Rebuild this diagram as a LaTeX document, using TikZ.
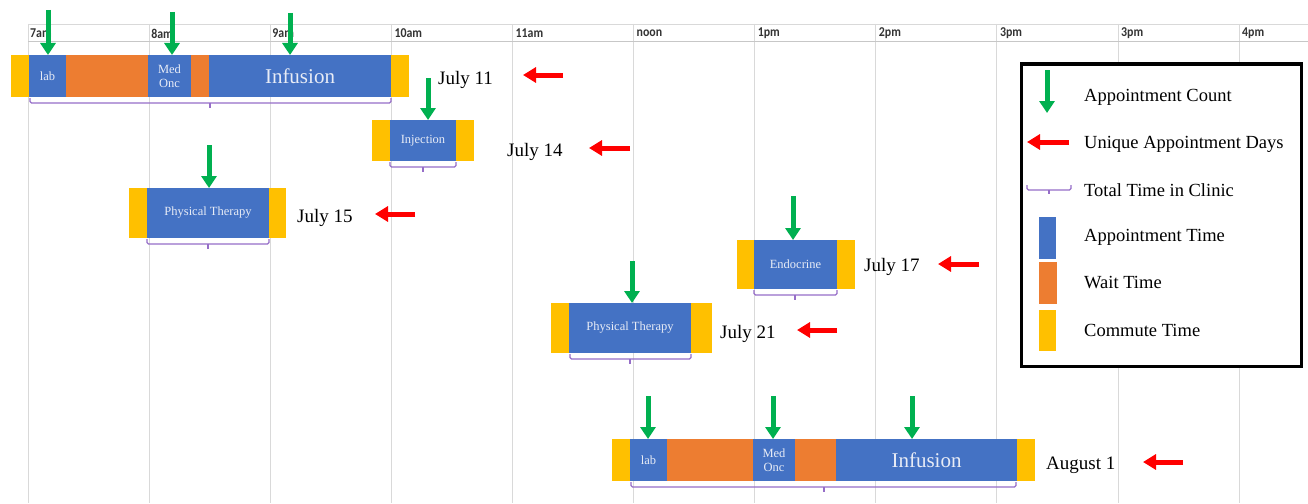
\documentclass[tikz,border=0pt]{standalone}
\usepackage{fontspec}
\setmainfont{Liberation Serif}
\newfontfamily\hdrfont[FakeStretch=0.88]{Carlito}
\usetikzlibrary{arrows.meta}
\definecolor{cblue}{RGB}{68,114,196}
\definecolor{corange}{RGB}{237,125,49}
\definecolor{cyellow}{RGB}{255,192,0}
\definecolor{cgreen}{RGB}{0,176,80}
\definecolor{cred}{RGB}{255,0,0}
\definecolor{cbrace}{RGB}{150,110,200}
\definecolor{cgrid}{RGB}{217,217,217}
\definecolor{ctext}{RGB}{232,236,246}
\begin{document}
\begin{tikzpicture}[x=1pt,y=-1pt,
  seg/.style={inner sep=0pt, outer sep=0pt, anchor=north west, draw=none, text=ctext, align=center},
  appt/.style={seg, fill=cblue},
  wait/.style={seg, fill=corange},
  comm/.style={seg, fill=cyellow},
  small/.style={font=\fontsize{12.5}{13.5}\selectfont},
  big/.style={font=\fontsize{21}{24}\selectfont},
  datelbl/.style={anchor=west, inner sep=0pt, font=\fontsize{19}{22}\selectfont},
  legtext/.style={anchor=west, inner sep=0pt, font=\fontsize{18.5}{22}\selectfont},
  hdr/.style={anchor=west, inner sep=0pt, font=\hdrfont\bfseries\fontsize{13.5}{14}\selectfont, text=black!80},
  garrow/.style={draw=cgreen, line width=5pt, -{Triangle[length=12pt,width=15pt]}},
  rarrow/.style={draw=cred, line width=5pt, -{Triangle[length=13pt,width=15pt]}},
  brace/.style={draw=cbrace, line width=1.1pt, rounded corners=1.5pt},
  gridline/.style={draw=cgrid, line width=0.8pt}
]
\useasboundingbox[fill=white] (0,0) rectangle (1308,503);

% grid
\foreach \k in {0,...,10} {
  \draw[gridline] ({28+121.1*\k},24) -- ({28+121.1*\k},503);
}
\draw[gridline] (28,24) -- (1308,24);
\draw[draw=black!22, line width=1.6pt] (28,41.5) -- (1308,41.5);
\node[hdr] (h7) at (30,33.5) {7am};
\node[hdr] (h8) at (151.1,33.5) {8am};
\node[hdr] (h9) at (272.2,33.5) {9am};
\node[hdr] (h10) at (394.3,33.5) {10am};
\node[hdr] (h11) at (515.4,33.5) {11am};
\node[hdr] (hnoon) at (636.5,33.5) {noon};
\node[hdr] (h1) at (757.6,33.5) {1pm};
\node[hdr] (h2) at (878.7,33.5) {2pm};
\node[hdr] (h3) at (999.8,33.5) {3pm};
\node[hdr] (h3b) at (1120.9,33.5) {3pm};
\node[hdr] (h4) at (1242,33.5) {4pm};

% Row 1: July 11
\node[comm, minimum width=18pt, minimum height=42pt] (r1c1) at (11,55) {};
\node[appt, small, minimum width=37pt, minimum height=42pt] (r1lab) at (29,55) {lab};
\node[wait, minimum width=82pt, minimum height=42pt] (r1w1) at (66,55) {};
\node[appt, small, minimum width=43pt, minimum height=42pt] (r1med) at (148,55) {Med\\Onc};
\node[wait, minimum width=18pt, minimum height=42pt] (r1w2) at (191,55) {};
\node[appt, big, minimum width=182pt, minimum height=42pt] (r1inf) at (209,55) {Infusion};
\node[comm, minimum width=18pt, minimum height=42pt] (r1c2) at (391,55) {};
\draw[brace] (30,98) -- (30,103) -- (391,103) -- (391,98);
\draw[brace] (210,103) -- (210,108);
\node[datelbl] (d1) at (438,80) {July 11};

% Row 2: July 14
\node[comm, minimum width=18pt, minimum height=41pt] (r2c1) at (372,120) {};
\node[appt, small, minimum width=66pt, minimum height=41pt] (r2inj) at (390,120) {Injection};
\node[comm, minimum width=18pt, minimum height=41pt] (r2c2) at (456,120) {};
\draw[brace] (390,162) -- (390,167) -- (456,167) -- (456,162);
\draw[brace] (423,167) -- (423,172);
\node[datelbl] (d2) at (507,152) {July 14};

% Row 3: July 15
\node[comm, minimum width=18pt, minimum height=50pt] (r3c1) at (129,188) {};
\node[appt, small, minimum width=122pt, minimum height=50pt] (r3pt) at (147,188) {Physical Therapy};
\node[comm, minimum width=17pt, minimum height=50pt] (r3c2) at (269,188) {};
\draw[brace] (147,239) -- (147,244) -- (269,244) -- (269,239);
\draw[brace] (208,244) -- (208,249);
\node[datelbl] (d3) at (297,218) {July 15};

% Row 4: July 17
\node[comm, minimum width=17pt, minimum height=49pt] (r4c1) at (737,240) {};
\node[appt, small, minimum width=83pt, minimum height=49pt] (r4end) at (754,240) {Endocrine};
\node[comm, minimum width=18pt, minimum height=49pt] (r4c2) at (837,240) {};
\draw[brace] (754,290) -- (754,295) -- (837,295) -- (837,290);
\draw[brace] (795,295) -- (795,300);
\node[datelbl] (d4) at (864,267) {July 17};

% Row 5: July 21
\node[comm, minimum width=18pt, minimum height=50pt] (r5c1) at (551,303) {};
\node[appt, small, minimum width=122pt, minimum height=50pt] (r5pt) at (569,303) {Physical Therapy};
\node[comm, minimum width=21pt, minimum height=50pt] (r5c2) at (691,303) {};
\draw[brace] (570,354) -- (570,359) -- (691,359) -- (691,354);
\draw[brace] (630,359) -- (630,364);
\node[datelbl] (d5) at (720,334) {July 21};

% Row 6: August 1
\node[comm, minimum width=18pt, minimum height=42pt] (r6c1) at (612,439) {};
\node[appt, small, minimum width=37pt, minimum height=42pt] (r6lab) at (630,439) {lab};
\node[wait, minimum width=86pt, minimum height=42pt] (r6w1) at (667,439) {};
\node[appt, small, minimum width=42pt, minimum height=42pt] (r6med) at (753,439) {Med\\Onc};
\node[wait, minimum width=41pt, minimum height=42pt] (r6w2) at (795,439) {};
\node[appt, big, minimum width=181pt, minimum height=42pt] (r6inf) at (836,439) {Infusion};
\node[comm, minimum width=18pt, minimum height=42pt] (r6c2) at (1017,439) {};
\draw[brace] (631,482) -- (631,487) -- (1016,487) -- (1016,482);
\draw[brace] (824,487) -- (824,492);
\node[datelbl] (d6) at (1046,465) {August 1};

% green arrows (appointment count)
\coordinate (g1a) at (48,10);
\coordinate (g1b) at (172,12);
\coordinate (g1c) at (290,13);
\coordinate (g2) at (428,78);
\coordinate (g3) at (209,145);
\coordinate (g4) at (793,196);
\coordinate (g5) at (632,261);
\coordinate (g6a) at (648,396);
\coordinate (g6b) at (773,396);
\coordinate (g6c) at (912,396);
\draw[garrow] (g1a) -- (g1a |- r1lab.north);
\draw[garrow] (g1b) -- (g1b |- r1med.north);
\draw[garrow] (g1c) -- (g1c |- r1inf.north);
\draw[garrow] (g2) -- (g2 |- r2inj.north);
\draw[garrow] (g3) -- (g3 |- r3pt.north);
\draw[garrow] (g4) -- (g4 |- r4end.north);
\draw[garrow] (g5) -- (g5 |- r5pt.north);
\draw[garrow] (g6a) -- (g6a |- r6lab.north);
\draw[garrow] (g6b) -- (g6b |- r6med.north);
\draw[garrow] (g6c) -- (g6c |- r6inf.north);

% red arrows (unique days)
\coordinate (ra1) at (563,75);  \coordinate (rb1) at (523,75);
\coordinate (ra2) at (630,148); \coordinate (rb2) at (589,148);
\coordinate (ra3) at (415,214); \coordinate (rb3) at (375,214);
\coordinate (ra4) at (979,264); \coordinate (rb4) at (938,264);
\coordinate (ra5) at (837,330); \coordinate (rb5) at (797,330);
\coordinate (ra6) at (1183,462); \coordinate (rb6) at (1143,462);
\draw[rarrow] (ra1) -- (rb1);
\draw[rarrow] (ra2) -- (rb2);
\draw[rarrow] (ra3) -- (rb3);
\draw[rarrow] (ra4) -- (rb4);
\draw[rarrow] (ra5) -- (rb5);
\draw[rarrow] (ra6) -- (rb6);

% legend
\draw[line width=3pt, fill=white] (1021,64) rectangle (1301,366);
\coordinate (lg1) at (1047,70);
\coordinate (lg2) at (1047,113);
\draw[garrow] (lg1) -- (lg2);
\node[legtext] (lt1) at (1084,97) {Appointment Count};
\coordinate (lr1) at (1069,142);
\coordinate (lr2) at (1027,142);
\draw[rarrow] (lr1) -- (lr2);
\node[legtext] (lt2) at (1084,144) {Unique Appointment Days};
\draw[brace] (1027,185) -- (1027,190) -- (1071,190) -- (1071,185);
\draw[brace] (1049,190) -- (1049,194);
\node[legtext] (lt3) at (1084,190) {Total Time in Clinic};
\fill[cblue] (1039,217) rectangle (1056,259);
\node[legtext] (lt4) at (1084,237) {Appointment Time};
\fill[corange] (1039,262) rectangle (1057,304);
\node[legtext] (lt5) at (1084,283) {Wait Time};
\fill[cyellow] (1039,310) rectangle (1056,351);
\node[legtext] (lt6) at (1084,330) {Commute Time};
\end{tikzpicture}
\end{document}
